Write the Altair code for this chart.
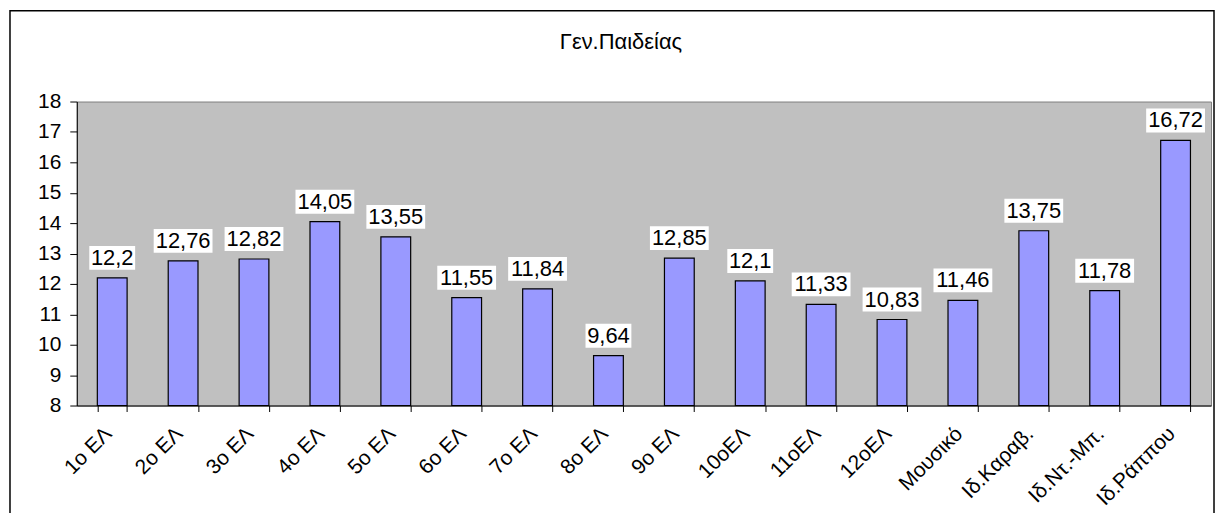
import altair as alt
import pandas as pd

schools = ["1ο ΕΛ", "2ο ΕΛ", "3ο ΕΛ", "4ο ΕΛ", "5ο ΕΛ", "6ο ΕΛ", "7ο ΕΛ", "8ο ΕΛ",
           "9ο ΕΛ", "10οΕΛ", "11οΕΛ", "12οΕΛ", "Μουσικό", "Ιδ.Καραβ.", "Ιδ.Ντ.-Μπ.", "Ιδ.Ράππου"]
values = [12.2, 12.76, 12.82, 14.05, 13.55, 11.55, 11.84, 9.64,
          12.85, 12.1, 11.33, 10.83, 11.46, 13.75, 11.78, 16.72]
y_ticks = list(range(8, 19))
chart_title = "Γεν.Παιδείας"

FONT = "Liberation Sans"
df = pd.DataFrame({"school": schools, "v": values})

x_axis = alt.Axis(labelAngle=-45, labelAlign="right", labelBaseline="middle",
                  labelPadding=19, labelOffset=-4, tickBand="extent", tickSize=6,
                  labelFontSize=21, labelFont=FONT, labelColor="black",
                  domainColor="black", tickColor="black", labelOverlap=False)
y_axis = alt.Axis(values=y_ticks, tickSize=7, labelPadding=9, labelFontSize=21,
                  labelFont=FONT, labelColor="black", domainColor="black",
                  tickColor="black", grid=False, labelOverlap=False)
x_scale = alt.Scale(paddingInner=0.58, paddingOuter=0.29)
y_scale = alt.Scale(domain=[8, 18], nice=False, zero=False)

x_enc = alt.X("school:N", sort=schools, title=None, scale=x_scale, axis=x_axis)
y_enc = alt.Y("v:Q", scale=y_scale, title=None, axis=y_axis)

base = alt.Chart(df).transform_calculate(
    label="replace(toString(datum.v), '.', ',')",
    n="length(replace(toString(datum.v), '.', ','))")

bars = base.mark_bar(color="#9999FF", stroke="black", strokeWidth=1.2).encode(
    x=x_enc, y=y_enc, y2=alt.datum(8))

box4 = base.transform_filter("datum.n == 4").mark_bar(
    color="white", width=46, yOffset=-8, y2Offset=-32).encode(
    x=x_enc, y=y_enc, y2="v:Q")
box5 = base.transform_filter("datum.n == 5").mark_bar(
    color="white", width=59, yOffset=-8, y2Offset=-32).encode(
    x=x_enc, y=y_enc, y2="v:Q")

labels = base.mark_text(dy=-20, baseline="middle", align="center", fontSize=22,
                        font=FONT, color="black").encode(
    x=x_enc, y=y_enc, text="label:N")

one = pd.DataFrame({"t": [chart_title]})
title = alt.Chart(one).mark_text(fontSize=22, font=FONT, color="black", baseline="alphabetic",
                                 align="center").encode(
    x=alt.value(546), y=alt.value(-53), text="t:N")
frame = alt.Chart(one).mark_rect(fill=None, stroke="black", strokeWidth=1.5).encode(
    x=alt.value(-67), x2=alt.value(1141), y=alt.value(-91), y2=alt.value(480))

chart = alt.layer(bars, box4, box5, labels, title, frame).properties(
    width=1138, height=305,
    autosize=alt.AutoSizeParams(type="none"),
    padding={"left": 69, "top": 93, "right": 5, "bottom": 107},
).configure_view(fill="#C0C0C0", stroke="#808080", strokeWidth=1)

chart.save("out.html", embed_options={"renderer": "svg", "actions": False})
